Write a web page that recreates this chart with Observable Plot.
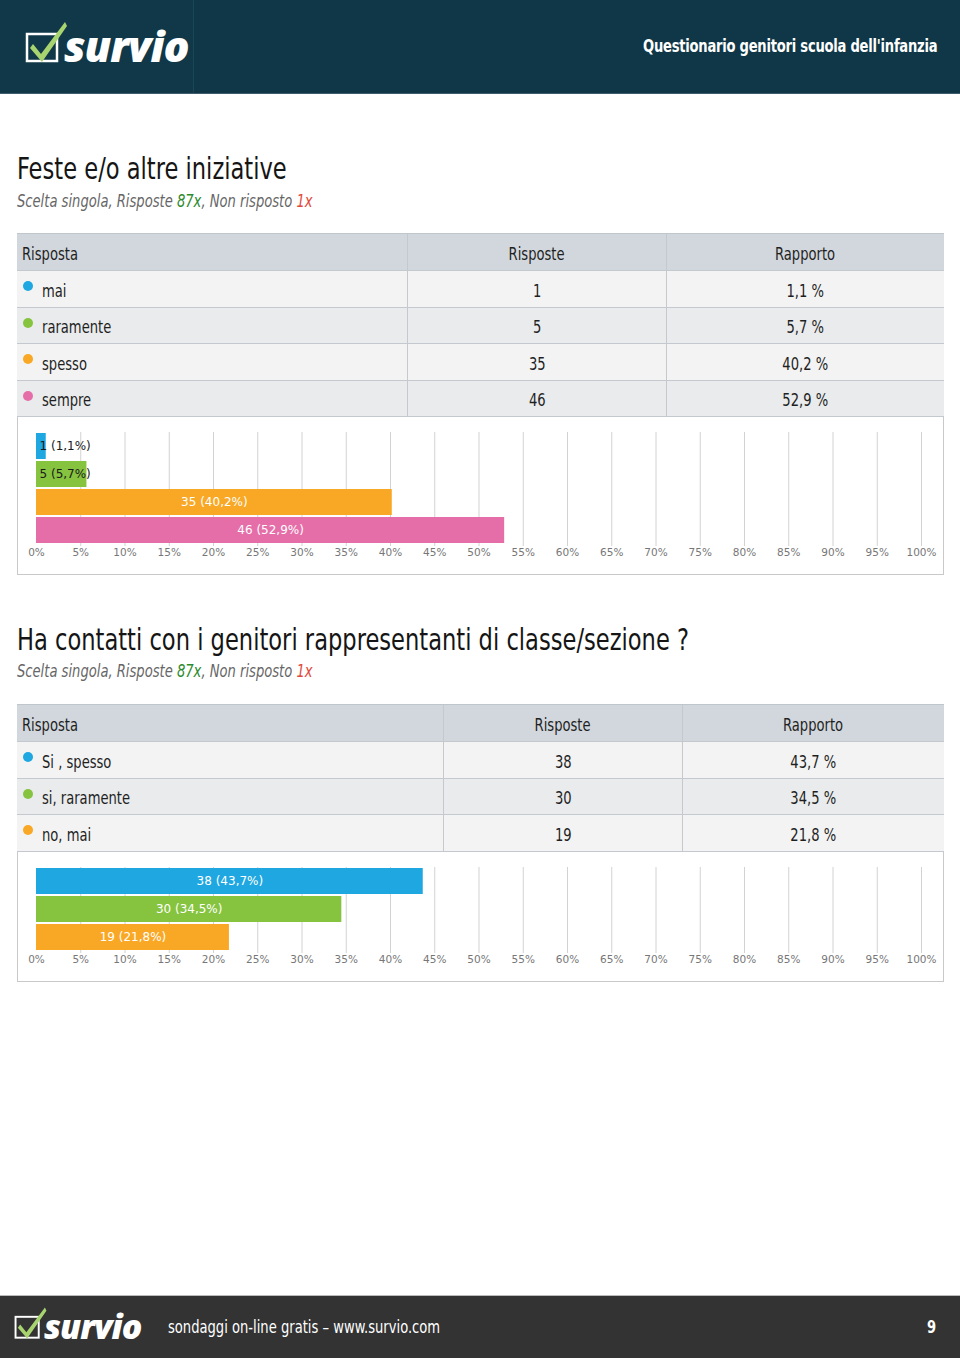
<!DOCTYPE html>
<html><head><meta charset="utf-8">
<script src="https://cdn.jsdelivr.net/npm/d3@7"></script>
<script src="https://cdn.jsdelivr.net/npm/@observablehq/plot@0.6"></script>
<style>
html,body{margin:0;padding:0}
body{width:960px;height:1358px;position:relative;background:#fff;overflow:hidden;
 font-family:"Liberation Sans Narrow","DejaVu Sans Condensed","DejaVu Sans",sans-serif;color:#1a1a1a}
.abs{position:absolute}
.n{display:inline-block;white-space:nowrap;transform:scaleX(0.81);transform-origin:left center}
.nc{transform-origin:center center}
.nr{transform-origin:right center}
#header{left:0;top:0;width:960px;height:93px;background:#0f3747;border-bottom:1px solid #3d5e6a}
#header .panel{left:0;top:0;width:193px;height:93px;background:#103848;border-right:1px solid #1c4555}
.logo{font-family:"Open Sans","Lato",sans-serif;font-weight:800;font-style:italic;color:#fff;letter-spacing:-1px}
#htitle{right:23px;top:35px;font-size:18px;font-weight:bold;color:#fff;letter-spacing:-0.3px;text-align:right}
#footer{left:0;top:1295px;width:960px;height:63px;background:#333;border-top:1px solid #bbb}
.qtitle{left:17px;font-size:31px;color:#151515;white-space:nowrap;line-height:36px}
.qsub{left:17px;font-size:18px;font-style:italic;color:#666;line-height:22px;white-space:nowrap}
.qsub .g{color:#2d8a2d}.qsub .r{color:#e04a3c}
.tbl{left:17px;width:927px;font-size:18px;color:#1f1f1f}
.row{position:relative;display:flex;box-sizing:border-box;border-bottom:1px solid #c3c9ce}
.cell{box-sizing:border-box;border-right:1px solid #c3c9ce;display:flex;align-items:center;padding-top:3px}
.cell:last-child{border-right:none}
.hdr{background:#d1d7dc;border-top:1px solid #bfc6cc}
.c0{padding-left:5px}
.c1,.c2{justify-content:center}
.dot{width:10px;height:10px;border-radius:50%;margin:0 9px 0 1px;position:relative;top:-4px;flex:none}
.box{left:17px;width:925px;border:1px solid #c9c9c9;border-top:none;background:#fff}
</style></head>
<body>
<div id="header" class="abs">
  <div class="panel abs"></div>
  <svg class="abs" style="left:25px;top:20px" width="44" height="44" viewBox="0 0 44 44">
    <rect x="2" y="14" width="30" height="27" fill="none" stroke="#fff" stroke-width="2.5"/>
    <path d="M8 24 L16 34 L40 2 L42 6 L17 42 L5 28 Z" fill="#a8d46f"/>
  </svg>
  <div class="abs logo" style="left:64px;top:18px;font-size:43px;line-height:56px">survio</div>
  <div id="htitle" class="abs"><span class="n nr">Questionario genitori scuola dell'infanzia</span></div>
</div>

<div id="footer" class="abs">
  <svg class="abs" style="left:14px;top:10px" width="34" height="34" viewBox="0 0 44 44">
    <rect x="2" y="14" width="30" height="27" fill="none" stroke="#fff" stroke-width="2.5"/>
    <path d="M8 24 L16 34 L40 2 L42 6 L17 42 L5 28 Z" fill="#a8d46f"/>
  </svg>
  <div class="abs logo" style="left:44px;top:8px;font-size:34px;line-height:44px">survio</div>
  <div class="abs" style="left:168px;top:20px;font-size:18px;color:#fff"><span class="n">sondaggi on-line gratis – www.survio.com</span></div>
  <div class="abs" style="left:927px;top:20px;font-size:18px;color:#fff;font-weight:bold"><span class="n">9</span></div>
</div>

<script>
// ---- data ----
const q1Title = "Feste e/o altre iniziative";
const q1Answers = ["mai", "raramente", "spesso", "sempre"];
const q1Counts = [1, 5, 35, 46];
const q1Pcts = [1.1, 5.7, 40.2, 52.9];
const q1Answered = 87;
const q1Unanswered = 1;

const q2Title = "Ha contatti con i genitori rappresentanti di classe/sezione ?";
const q2Answers = ["Si , spesso", "si, raramente", "no, mai"];
const q2Counts = [38, 30, 19];
const q2Pcts = [43.7, 34.5, 21.8];
const q2Answered = 87;
const q2Unanswered = 1;

const seriesColors = ["#1fa7e1", "#86c440", "#f9a825", "#e56ea9"];
const xTicks = [0, 5, 10, 15, 20, 25, 30, 35, 40, 45, 50, 55, 60, 65, 70, 75, 80, 85, 90, 95, 100];
const headers = ["Risposta", "Risposte", "Rapporto"];

const fmt = v => String(v).replace(".", ",");

function narrow(text, extra) {
  const s = document.createElement("span");
  s.className = "n" + (extra ? " " + extra : "");
  s.textContent = text;
  return s;
}

function section(cfg) {
  const body = document.body;
  const t = document.createElement("div");
  t.className = "abs qtitle"; t.style.top = cfg.titleTop + "px";
  t.appendChild(narrow(cfg.title));
  body.appendChild(t);
  const s = document.createElement("div");
  s.className = "abs qsub"; s.style.top = cfg.subTop + "px";
  s.innerHTML = `<span class="n">Scelta singola, Risposte <span class="g">${cfg.answered}x</span>, Non risposto <span class="r">${cfg.unanswered}x</span></span>`;
  body.appendChild(s);

  const tbl = document.createElement("div");
  tbl.className = "abs tbl"; tbl.style.top = cfg.tableTop + "px";
  const mk = (cells, cls, h, bg, dotColor) => {
    const r = document.createElement("div");
    r.className = "row " + cls; r.style.height = h + "px";
    if (bg) r.style.background = bg;
    cells.forEach((c, i) => {
      const d = document.createElement("div");
      d.className = "cell c" + i; d.style.width = cfg.cols[i] + "px";
      if (i === 0 && dotColor) {
        const dot = document.createElement("span"); dot.className = "dot"; dot.style.background = dotColor;
        d.appendChild(dot);
      }
      d.appendChild(narrow(c, i === 0 ? "" : "nc"));
      r.appendChild(d);
    });
    tbl.appendChild(r);
  };
  mk(headers, "hdr", 38, null, null);
  cfg.answers.forEach((a, i) => mk([a, String(cfg.counts[i]), fmt(cfg.pcts[i]) + " %"], "", 36.5,
    i % 2 === 0 ? "#f3f3f3" : "#e9ebec", seriesColors[i]));
  body.appendChild(tbl);

  const data = cfg.answers.map((a, i) => ({answer: a, count: cfg.counts[i], pct: cfg.pcts[i], color: seriesColors[i]}));
  const lab = d => `${d.count} (${fmt(d.pct)}%)`;
  const chart = Plot.plot({
    width: 925, height: cfg.chartH,
    marginLeft: 18, marginRight: 22, marginTop: 15, marginBottom: 28,
    x: {domain: [0, 100], axis: null, label: null},
    y: {domain: cfg.answers, axis: null, label: null, paddingInner: 0.07, paddingOuter: 0.06, align: 0.3},
    color: {type: "identity"},
    style: {fontFamily: "DejaVu Sans", fontSize: "11px", background: "transparent", overflow: "visible"},
    marks: [
      Plot.ruleX(xTicks.slice(1), {stroke: "#d2d2d2", strokeWidth: 1}),
      Plot.barX(data, {x: "pct", y: "answer", fill: "color"}),
      Plot.text(data.filter(d => d.pct < 10), {x: 0, y: "answer", text: lab, textAnchor: "start", dx: 3, fill: "#1a1a1a", fontSize: 12}),
      Plot.text(data.filter(d => d.pct >= 10), {x: d => d.pct / 2, y: "answer", text: lab, fill: "#fff", fontSize: 12}),
      Plot.axisX({ticks: xTicks, tickFormat: d => d + "%", tickSize: 0, tickPadding: 2, fill: "#777", fontSize: 10.5, label: null})
    ]
  });
  const box = document.createElement("div");
  box.className = "abs box";
  box.style.top = cfg.boxTop + "px"; box.style.height = cfg.chartH + "px";
  box.appendChild(chart);
  body.appendChild(box);
}

section({title: q1Title, answered: q1Answered, unanswered: q1Unanswered,
  answers: q1Answers, counts: q1Counts, pcts: q1Pcts,
  titleTop: 150, subTop: 190, tableTop: 233, cols: [391, 259, 277], boxTop: 417, chartH: 157});
section({title: q2Title, answered: q2Answered, unanswered: q2Unanswered,
  answers: q2Answers, counts: q2Counts, pcts: q2Pcts,
  titleTop: 621, subTop: 660, tableTop: 704, cols: [427, 239, 261], boxTop: 852, chartH: 129});
</script>
</body></html>
